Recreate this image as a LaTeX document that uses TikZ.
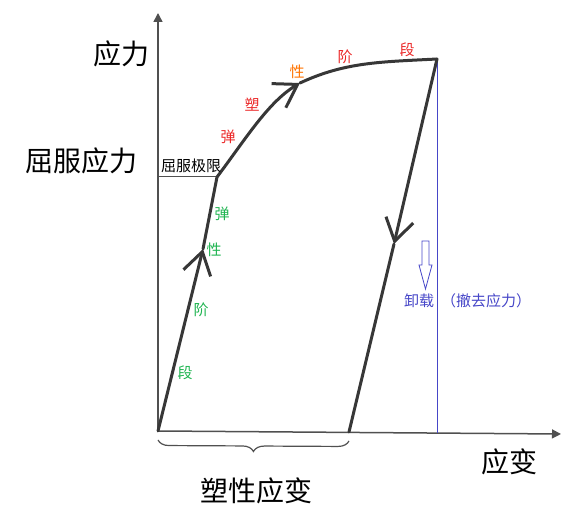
\documentclass[tikz,border=0pt]{standalone}
\usepackage{fontspec}
\newfontfamily\cjk{Noto Sans CJK SC}
\usetikzlibrary{arrows.meta,decorations.pathreplacing}
\definecolor{axisgray}{RGB}{80,80,80}
\definecolor{curvegray}{RGB}{55,55,55}
\definecolor{elasgreen}{RGB}{30,180,80}
\definecolor{plasred}{RGB}{235,40,40}
\definecolor{unloadblue}{RGB}{70,70,200}

\begin{document}
\begin{tikzpicture}[
    x=1pt, y=-1pt,
    axis/.style={draw=axisgray, line width=1.5pt, -{Triangle[length=9pt,width=9pt]}},
    curve/.style={draw=curvegray, line width=3pt, line cap=round, line join=round},
    midarrow/.style={curve, -{Straight Barb[length=22pt,width=28pt]}},
    big/.style={font=\cjk\fontsize{28}{30}\selectfont, inner sep=0pt},
    small/.style={font=\cjk\fontsize{15}{17}\selectfont, inner sep=0pt},
    elas/.style={small, text=elasgreen},
    plas/.style={small, text=plasred}
]
\useasboundingbox (0,0) rectangle (574,529);

% Key points
\coordinate (O) at (158,431);
\coordinate (Y) at (217,177);
\coordinate (P) at (437,59);
\coordinate (U) at (349,432);
\coordinate (ytop) at (158,13);
\coordinate (xend) at (561,434);
\coordinate (yleft) at (158,177);
\coordinate (pfoot) at (437,433);

% Arrow points on the curve
\coordinate (ea) at (203,249);
\coordinate (pa) at (300,83);
\coordinate (ua) at (394,244);

% Axes
\draw[axis] (O) -- (ytop);
\draw[axis] (O) -- (xend);

% Guide lines
\draw[axisgray, line width=1pt] (yleft) -- (Y);
\draw[unloadblue, line width=1pt] (P) -- (pfoot);

% Elastic stage
\draw[midarrow] (O) -- (ea);
\draw[curve] (ea) -- (Y);

% Plastic stage
\draw[midarrow] (Y) .. controls (245,140) and (268,102) .. (pa);
\draw[curve] (pa) .. controls (345,62) and (380,62) .. (P);

% Unloading
\draw[midarrow] (P) -- (ua);
\draw[curve] (ua) -- (U);

% Hollow arrow
\draw[unloadblue, line width=0.8pt] (422,241) -- (429,241) -- (429,265) -- (432,265)
    -- (425.5,289) -- (419,265) -- (422,265) -- cycle;

% Brace
\draw[axisgray, line width=1.2pt, decorate,
    decoration={brace, mirror, amplitude=11pt, aspect=0.5}] ([yshift=-9pt]O) -- ([yshift=-9pt]U);

% Labels
\node[big] (stress) at (121,54) {应力};
\node[big] (ystress) at (82,161) {屈服应力};
\node[big] (strain) at (509,462) {应变};
\node[big] (pstrain) at (256,491) {塑性应变};
\node[small] (ylimit) at (191,166) {屈服极限};

\node[elas] (e1) at (222,214) {弹};
\node[elas] (e2) at (214,250) {性};
\node[elas] (e3) at (201,310) {阶};
\node[elas] (e4) at (185,373) {段};

\node[plas] (p1) at (228,137) {弹};
\node[plas] (p2) at (252,105) {塑};
\node[plas, text=orange!90!red] (p3) at (297,72) {性};
\node[plas] (p4) at (345,57) {阶};
\node[plas] (p5) at (407,50) {段};

\node[small, text=unloadblue] (unload) at (419,301) {卸载};
\node[small, text=unloadblue] (remove) at (486,301) {（撤去应力）};

\end{tikzpicture}
\end{document}
